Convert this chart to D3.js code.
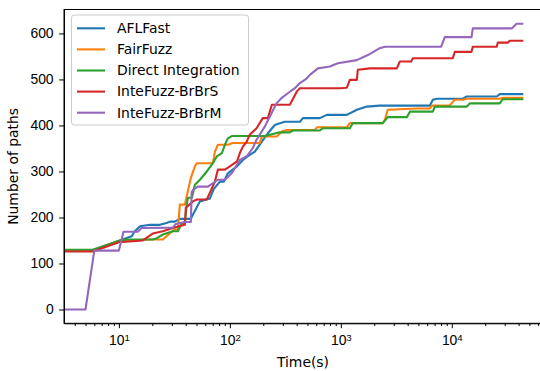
<!DOCTYPE html>
<html>
<head>
<meta charset="utf-8">
<script src="https://cdn.jsdelivr.net/npm/d3@7"></script>
<style>
  body { margin: 0; background: #fff; }
  svg { font-family: "DejaVu Sans", sans-serif; }
  .axis text { font-size: 13.9px; fill: #000; }
  .axis path, .axis line { stroke: #000; stroke-width: 1; }
</style>
</head>
<body>
<svg id="chart" width="540" height="371"></svg>
<script>
// series: [time in seconds, number of paths]
var aflfast = [[3.2,128],[5.8,128],[10.2,150],[13.0,159],[13.9,170],[15.5,181],[19,184],[23.4,184],[26.9,188],[28.8,191],[31.9,191],[35.4,197],[44.5,197],[46.4,206],[53.7,235],[63.4,240],[66,241],[71.7,262],[81.3,278],[88.3,278],[95.9,296],[106,304],[116,311],[131,325],[151,336],[168,343],[194,365],[220,383],[254,401],[282,405],[313,408],[428,408],[455,416],[647,416],[748,423],[1133,423],[1393,434],[1714,441],[2244,443],[6340,443],[6745,456],[7330,458],[12560,458],[13650,463],[25430,463],[27060,468],[43200,468]];
var fairfuzz = [[3.2,128],[5.8,128],[10.2,150],[20.2,152],[24.9,152],[28.8,166],[31.9,174],[34,174],[35.4,228],[39.3,228],[44.5,286],[48.4,311],[50.4,318],[70.3,318],[73.3,343],[78,358],[95.9,358],[106,362],[186,362],[194,376],[265,376],[294,387],[326,390],[583,390],[608,396],[1133,396],[1205,405],[2388,405],[2490,412],[2649,434],[4842,437],[6340,437],[6607,443],[9590,443],[10640,456],[12560,456],[13650,458],[27060,458],[28790,460],[43200,460]];
var direct = [[3.2,130],[5.8,130],[10.2,150],[11.8,152],[20.2,152],[22,155],[24.9,163],[30.6,170],[34,170],[37,188],[39.3,188],[40.7,224],[41.8,243],[45.5,243],[48.4,271],[53.7,282],[62,300],[70.3,318],[76.4,333],[84.7,340],[90.2,358],[95.9,372],[104,377],[207,377],[229,380],[282,385],[347,385],[370,389],[647,389],[689,394],[1205,394],[1282,405],[2388,405],[2649,418],[3935,418],[4188,430],[6745,430],[7035,441],[13650,441],[14520,448],[27060,448],[28790,457],[43200,457]];
var brbrs = [[3.2,126],[5.8,126],[10,146],[16.4,150],[20.2,165],[24.9,170],[30.6,177],[39.3,184],[40.1,221],[46.4,235],[50.4,239],[62,239],[73.3,278],[78,304],[90.2,304],[100,311],[116,322],[123,340],[131,354],[142,365],[151,380],[174,394],[198,416],[220,416],[239,445],[347,445],[402,474],[428,481],[980,481],[1133,482],[1205,499],[1393,499],[1422,521],[1824,524],[3196,524],[3404,539],[4300,539],[4457,546],[10210,546],[10640,560],[15060,560],[15460,571],[25430,571],[25950,580],[31960,580],[33320,584],[43200,584]];
var brbrm = [[3.2,0],[5.0,0],[6.0,128],[10,128],[11,169],[14.8,169],[16,177],[30.6,178],[32.6,186],[39.3,190],[44.5,190],[45.2,254],[46.4,260],[51.5,267],[63.4,267],[78,282],[90.2,282],[104,296],[123,325],[142,333],[161,351],[174,369],[207,398],[238,427],[263,448],[294,460],[333,470],[385,481],[428,492],[491,502],[526,510],[621,524],[796,528],[940,535],[1393,542],[1750,553],[2244,568],[2500,571],[8000,571],[8650,592],[15060,592],[15460,611],[34750,611],[35480,613],[38300,621],[43200,621]];

var names = ['AFLFast', 'FairFuzz', 'Direct Integration', 'InteFuzz-BrBrS', 'InteFuzz-BrBrM'];
var seriesData = [aflfast, fairfuzz, direct, brbrs, brbrm];
var colors = ['#1f77b4', '#ff7f0e', '#2ca02c', '#d62728', '#9467bd'];
var yTicks = [0, 100, 200, 300, 400, 500, 600];
var xTicks = [10, 100, 1000, 10000];

var margin = { top: 9.5, left: 64, bottom: 47.7, right: -2 };
var svg = d3.select('#chart');
var width = 540 - margin.left - margin.right;
var height = 371 - margin.top - margin.bottom;

var xScale = d3.scaleLog().domain([3.2, 65000]).range([0, width]);
var yScale = d3.scaleLinear().domain([-30, 652]).range([height, 0]);

var g = svg.append('g').attr('transform', 'translate(' + [margin.left, margin.top] + ')');

g.append('clipPath').attr('id', 'plotclip')
  .append('rect').attr('width', width).attr('height', height);

var line = d3.line()
  .x(function(d) { return xScale(d[0]); })
  .y(function(d) { return yScale(d[1]); });

// lines
g.append('g').attr('clip-path', 'url(#plotclip)')
  .selectAll('path')
  .data(seriesData)
  .enter().append('path')
  .attr('d', line)
  .style('fill', 'none')
  .style('stroke', function(d, i) { return colors[i]; })
  .style('stroke-width', 2.1)
  .style('stroke-linejoin', 'round')
  .style('stroke-linecap', 'square');

// minor ticks
var minor = [];
[1, 10, 100, 1000, 10000].forEach(function(dec) {
  for (var k = 2; k <= 9; k++) {
    var v = dec * k;
    if (v >= 3.2 && v <= 65000) minor.push(v);
  }
});
g.append('g').attr('class', 'x axis minor')
  .attr('transform', 'translate(0,' + height + ')')
  .call(d3.axisBottom(xScale).tickValues(minor).tickSize(2.8).tickFormat(''))
  .call(function(s) { s.select('.domain').remove(); });

// x axis
var xAxis = g.append('g').attr('class', 'x axis')
  .attr('transform', 'translate(0,' + height + ')')
  .call(d3.axisBottom(xScale).tickValues(xTicks).tickSize(4.9).tickPadding(7).tickSizeOuter(0));
xAxis.selectAll('.tick text').each(function(d) {
  var t = d3.select(this).text('');
  t.append('tspan').text('10');
  t.append('tspan').attr('dy', '-0.42em').style('font-size', '9.7px').text(Math.round(Math.log10(d)));
});

// y axis
g.append('g').attr('class', 'y axis')
  .call(d3.axisLeft(yScale).tickValues(yTicks).tickSize(4.9).tickPadding(5.5).tickSizeOuter(0));

// frame
g.append('rect').attr('width', width).attr('height', height)
  .style('fill', 'none').style('stroke', '#000').style('stroke-width', 1);

// axis labels
g.append('text')
  .attr('x', width / 2).attr('y', height + 43.2)
  .attr('text-anchor', 'middle').style('font-size', '13.9px')
  .text('Time(s)');
g.append('text')
  .attr('transform', 'translate(' + (-46) + ',' + (height / 2) + ') rotate(-90)')
  .attr('text-anchor', 'middle').style('font-size', '13.9px')
  .text('Number of paths');

// legend
var legend = g.append('g').attr('transform', 'translate(' + (71.5 - margin.left) + ',' + (15 - margin.top) + ')');
legend.append('rect')
  .attr('width', 177).attr('height', 110).attr('rx', 2.8)
  .style('fill', '#fff').style('fill-opacity', 0.8)
  .style('stroke', '#cccccc').style('stroke-width', 1);
var items = legend.selectAll('.item').data(names).enter().append('g')
  .attr('transform', function(d, i) { return 'translate(0,' + (13.3 + i * 21.1) + ')'; });
items.append('line')
  .attr('x1', 5.5).attr('x2', 33.5)
  .style('stroke', function(d, i) { return colors[i]; })
  .style('stroke-width', 2.1);
items.append('text')
  .attr('x', 45.5).attr('dy', '0.35em')
  .style('font-size', '13.9px')
  .text(function(d) { return d; });
</script>
</body>
</html>
